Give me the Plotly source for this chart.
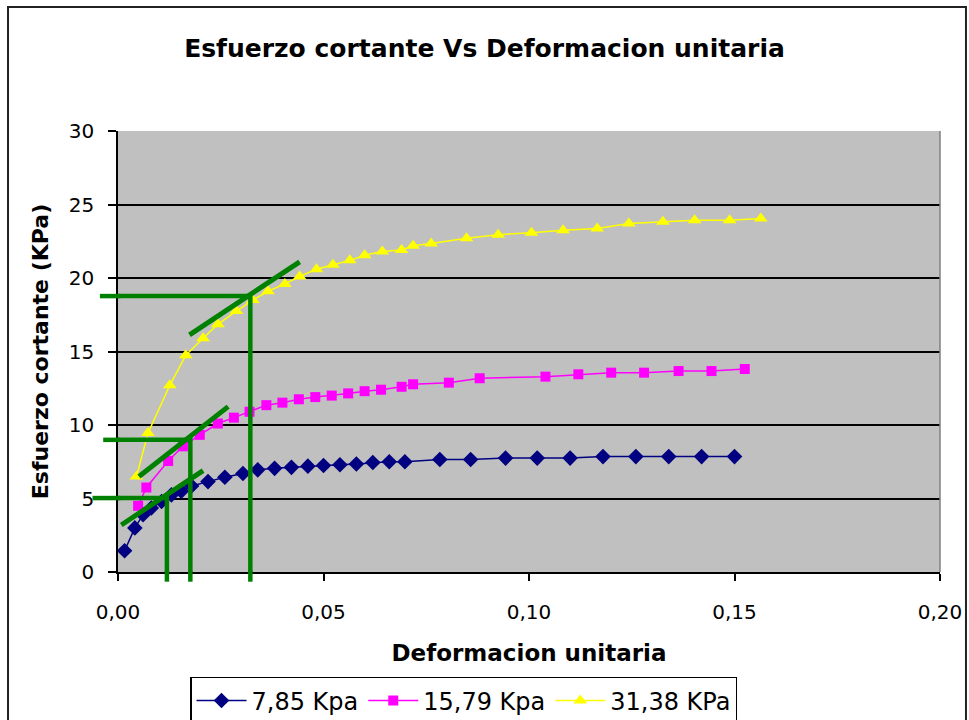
import plotly.graph_objects as go

# ---------------- data ----------------
x_785 = [0.0016, 0.0041, 0.0061, 0.0081, 0.0106, 0.0130, 0.0154, 0.0179, 0.0219, 0.0260,
         0.0304, 0.0340, 0.0381, 0.0422, 0.0462, 0.0500, 0.0540, 0.0580, 0.0620, 0.0660,
         0.0698, 0.0783, 0.0858, 0.0943, 0.1020, 0.1100, 0.1180, 0.1260, 0.1340, 0.1420, 0.1500]
y_785 = [1.45, 3.00, 3.90, 4.35, 4.80, 5.25, 5.50, 5.85, 6.15, 6.45,
         6.70, 6.95, 7.05, 7.12, 7.20, 7.25, 7.30, 7.35, 7.45, 7.50,
         7.50, 7.65, 7.65, 7.75, 7.75, 7.75, 7.85, 7.85, 7.85, 7.85, 7.85]

x_1579 = [0.0049, 0.0069, 0.0122, 0.0158, 0.0199, 0.0243, 0.0282, 0.0320, 0.0361, 0.0400,
          0.0440, 0.0480, 0.0520, 0.0560, 0.0600, 0.0640, 0.0690, 0.0718, 0.0805, 0.0880,
          0.1040, 0.1120, 0.1200, 0.1280, 0.1364, 0.1444, 0.1525]
y_1579 = [4.50, 5.75, 7.55, 8.55, 9.33, 10.10, 10.50, 10.90, 11.35, 11.52,
          11.75, 11.90, 12.00, 12.15, 12.30, 12.40, 12.60, 12.77, 12.88, 13.18,
          13.29, 13.45, 13.56, 13.56, 13.67, 13.67, 13.81]

x_3138 = [0.0045, 0.0073, 0.0126, 0.0165, 0.0207, 0.0243, 0.0288, 0.0328, 0.0365, 0.0406,
          0.0442, 0.0483, 0.0523, 0.0564, 0.0600, 0.0643, 0.0690, 0.0718, 0.0762, 0.0848,
          0.0925, 0.1006, 0.1083, 0.1166, 0.1243, 0.1326, 0.1403, 0.1488, 0.1564]
y_3138 = [6.50, 9.45, 12.70, 14.75, 15.90, 16.85, 17.75, 18.50, 19.10, 19.60,
          20.10, 20.60, 20.90, 21.20, 21.55, 21.80, 21.90, 22.20, 22.35, 22.70,
          22.95, 23.07, 23.25, 23.37, 23.70, 23.82, 23.93, 23.93, 24.05]

series_names = ["7,85 Kpa", "15,79 Kpa", "31,38 KPa"]

# green construction lines
guide_y = [5.03, 8.99, 18.77]          # horizontal levels
guide_x = [0.0119, 0.0176, 0.0322]     # vertical drops
guide_left_paper = [-0.031, -0.018, -0.022]  # how far the horizontals stick out left
tangent_x0 = [0.0008, 0.0051, 0.0174]
tangent_y0 = [3.20, 6.50, 16.13]
tangent_x1 = [0.0207, 0.0268, 0.0442]
tangent_y1 = [6.90, 11.25, 21.10]

x_range = [0, 0.20]
y_range = [0, 30]

FONT = "DejaVu Sans"
GREEN = "#008000"

fig = go.Figure()
styles = [
    dict(color="#000080", symbol="diamond", size=12),
    dict(color="#ff00ff", symbol="square", size=10),
    dict(color="#ffff00", symbol="triangle-up", size=12),
]
for xs, ys, nm, st in zip([x_785, x_1579, x_3138], [y_785, y_1579, y_3138], series_names, styles):
    fig.add_trace(go.Scatter(
        x=xs, y=ys, name=nm, mode="lines+markers",
        line=dict(color=st["color"], width=1.5),
        marker=dict(symbol=st["symbol"], size=st["size"], color=st["color"],
                    line=dict(width=0)),
    ))

shapes = []
for gy, gx, gl in zip(guide_y, guide_x, guide_left_paper):
    # inside the plot: horizontal then vertical drop (data coords)
    shapes.append(dict(type="path", xref="x", yref="y", layer="above",
                       path=f"M {x_range[0]},{gy} L {gx},{gy} L {gx},{y_range[0]}",
                       line=dict(color=GREEN, width=4.5)))
    # stub to the left of the y axis
    shapes.append(dict(type="line", xref="paper", yref="y", layer="above",
                       x0=gl, x1=0.003, y0=gy, y1=gy,
                       line=dict(color=GREEN, width=4.5)))
    # stub below the x axis
    shapes.append(dict(type="line", xref="x", yref="paper", layer="above",
                       x0=gx, x1=gx, y0=-0.022, y1=0.003,
                       line=dict(color=GREEN, width=4.5)))
for a, b, c, d in zip(tangent_x0, tangent_y0, tangent_x1, tangent_y1):
    shapes.append(dict(type="line", xref="x", yref="y", layer="above",
                       x0=a, y0=b, x1=c, y1=d,
                       line=dict(color=GREEN, width=5)))
# plot-area right edge
shapes.append(dict(type="line", xref="paper", yref="paper", x0=1, x1=1, y0=0, y1=1,
                   line=dict(color="#808080", width=1.5)))
# chart-area border
shapes.append(dict(type="rect", xref="paper", yref="paper",
                   x0=-0.1338, x1=1.0316, y0=-0.45, y1=1.281,
                   line=dict(color="#222222", width=2)))

fig.update_layout(
    width=969, height=720,
    margin=dict(l=118, r=29, t=131, b=148, autoexpand=False),
    paper_bgcolor="white", plot_bgcolor="#c0c0c0",
    separators=",.",
    title=dict(text="<b>Esfuerzo cortante Vs Deformacion unitaria</b>",
               x=0.5, xref="container", xanchor="center",
               y=1 - 48 / 720, yref="container", yanchor="middle",
               font=dict(family=FONT, size=25, color="black")),
    xaxis=dict(range=x_range, dtick=0.05, tick0=0, tickformat=".2f",
               showgrid=False, zeroline=False,
               showline=True, linecolor="black", linewidth=1.5,
               ticks="outside", ticklen=7, tickcolor="black", tickwidth=1.5,
               ticklabelstandoff=14,
               tickfont=dict(family=FONT, size=20, color="black"),
               title=dict(text="<b>Deformacion unitaria</b>", standoff=22,
                          font=dict(family=FONT, size=23, color="black"))),
    yaxis=dict(range=y_range, dtick=5, tick0=0,
               showgrid=True, gridcolor="black", gridwidth=1.5, zeroline=False,
               showline=True, linecolor="black", linewidth=1.5,
               ticks="outside", ticklen=8, tickcolor="black", tickwidth=1.5,
               ticklabelstandoff=10,
               tickfont=dict(family=FONT, size=20, color="black"),
               title=dict(text="<b>Esfuerzo cortante (KPa)</b>", standoff=14,
                          font=dict(family=FONT, size=22, color="black"))),
    legend=dict(orientation="h", x=0.0876, y=-0.238, xanchor="left", yanchor="top",
                bgcolor="white", bordercolor="black", borderwidth=1.5,
                itemwidth=50,
                font=dict(family=FONT, size=24, color="black")),
    shapes=shapes,
    showlegend=True,
)

fig.write_html("out.html")
